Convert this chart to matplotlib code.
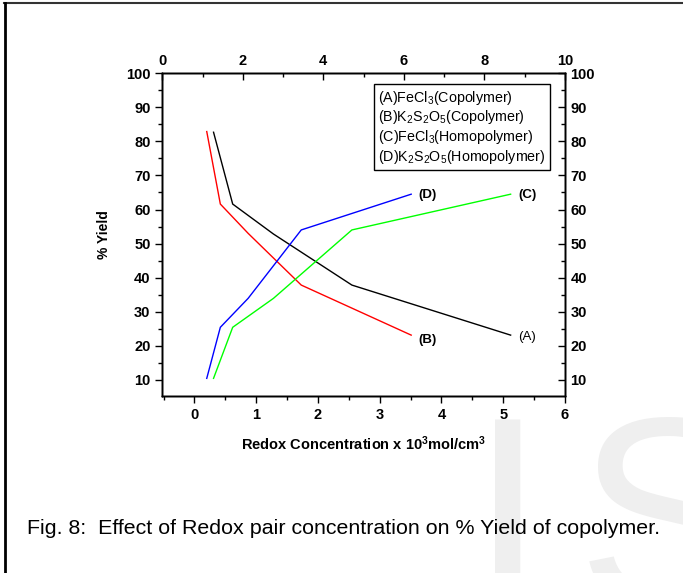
import matplotlib
matplotlib.use("Agg")
import matplotlib.pyplot as plt
from matplotlib.lines import Line2D
from matplotlib.ticker import MultipleLocator

plt.rcParams['font.family'] = ['Liberation Sans', 'DejaVu Sans']
plt.rcParams['mathtext.default'] = 'regular'

# concentration (x 10^3 mol/cm^3) and % yield
conc_b_d = [0.20, 0.42, 0.87, 1.73, 3.51]
conc_a_c = [0.31, 0.62, 1.28, 2.55, 5.12]
yield_a = [82.7, 61.6, 52.8, 37.8, 23.1]
yield_b = [82.9, 61.6, 53.0, 37.8, 23.1]
yield_c = [10.4, 25.4, 33.9, 54.0, 64.5]
yield_d = [10.4, 25.4, 33.9, 54.0, 64.5]

legend_labels = [r'(A)FeCl$_3$(Copolymer)',
                 r'(B)K$_2$S$_2$O$_5$(Copolymer)',
                 r'(C)FeCl$_3$(Homopolymer)',
                 r'(D)K$_2$S$_2$O$_5$(Homopolymer)']

TICK_FS = 10.5

fig = plt.figure(figsize=(6.83, 5.73), dpi=100)

# faint watermark behind everything
fig.text(470 / 683, 1 - 606 / 573, 'I', fontsize=195, color='#efefef', zorder=-5)
fig.text(577 / 683, 1 - 606 / 573, 'S', fontsize=195, color='#efefef', zorder=-5)

ax = fig.add_axes([0.2376, 0.3094, 0.5896, 0.5626])
ax.patch.set_alpha(0)

la, = ax.plot(conc_a_c, yield_a, color='black', lw=1)
lb, = ax.plot(conc_b_d, yield_b, color='red', lw=1)
lc, = ax.plot(conc_a_c, yield_c, color='#00ff00', lw=1)
ld, = ax.plot(conc_b_d, yield_d, color='blue', lw=1)

# end-of-curve labels
ax.text(conc_a_c[-1] + 0.12, yield_a[-1] - 0.6, '(A)', fontsize=9.5, va='center')
ax.text(conc_b_d[-1] + 0.12, yield_b[-1] - 1.5, '(B)', fontsize=9.5, va='center', fontweight='bold')
ax.text(conc_a_c[-1] + 0.12, yield_c[-1] - 0.2, '(C)', fontsize=9.5, va='center', fontweight='bold')
ax.text(conc_b_d[-1] + 0.12, yield_d[-1] - 0.2, '(D)', fontsize=9.5, va='center', fontweight='bold')

ax.set_xlim(-0.52, 6)
ax.set_ylim(5.3, 100)
ax.xaxis.set_major_locator(MultipleLocator(1))
ax.xaxis.set_minor_locator(MultipleLocator(0.5))
ax.yaxis.set_minor_locator(MultipleLocator(5))
ax.set_yticks(range(10, 101, 10))
ax.tick_params(which='both', direction='out', width=1, labelsize=TICK_FS)
ax.tick_params(which='major', length=5)
ax.tick_params(which='minor', length=3)
for lab in ax.get_xticklabels() + ax.get_yticklabels():
    lab.set_fontweight('bold')

ax.set_ylabel('% Yield', fontsize=10, fontweight='bold', labelpad=11)
ax.set_xlabel(r'Redox Concentration x 10$^3$mol/cm$^3$', fontsize=10.5, fontweight='bold', labelpad=9)

# top axis 0-10
axt = ax.twiny()
axt.set_xlim(0, 10)
axt.xaxis.set_major_locator(MultipleLocator(2))
axt.xaxis.set_minor_locator(MultipleLocator(1))
axt.tick_params(which='both', direction='in', width=1, labelsize=TICK_FS, pad=4)
axt.tick_params(which='major', length=5)
axt.tick_params(which='minor', length=3)
for lab in axt.get_xticklabels():
    lab.set_fontweight('bold')

# right axis, same scale as left
axr = ax.twinx()
axr.set_ylim(ax.get_ylim())
axr.set_yticks(range(10, 101, 10))
axr.yaxis.set_minor_locator(MultipleLocator(5))
axr.tick_params(which='both', direction='in', width=1, labelsize=TICK_FS, pad=4)
axr.tick_params(which='major', length=5)
axr.tick_params(which='minor', length=3)
for lab in axr.get_yticklabels():
    lab.set_fontweight('bold')

for a in (ax, axt, axr):
    for s in a.spines.values():
        s.set_linewidth(1)

leg = axr.legend([la, lb, lc, ld], legend_labels, loc='upper right',
                 bbox_to_anchor=(0.963, 0.966), borderaxespad=0,
                 handlelength=0, handletextpad=0, fontsize=10.3,
                 fancybox=False, framealpha=1, edgecolor='black',
                 labelspacing=0.12, borderpad=0.3)
leg.get_frame().set_linewidth(1)

fig.text(27 / 683, 1 - 528 / 573, 'Fig. 8:  Effect of Redox pair concentration on % Yield of copolymer.',
         fontsize=15.4, va='center')

# page frame
fig.add_artist(Line2D([4 / 683, 1], [1 - 3 / 573] * 2, color='#333333', lw=1.5))
fig.add_artist(Line2D([5 / 683] * 2, [0, 1 - 3 / 573], color='black', lw=2))

fig.savefig('out.png', dpi=100)
